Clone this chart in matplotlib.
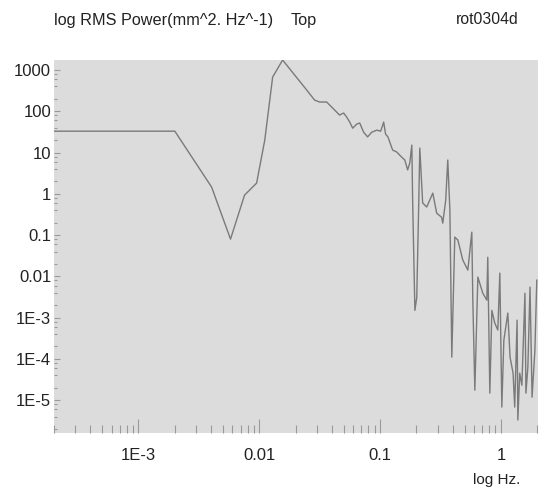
import numpy as np
import matplotlib.pyplot as plt
from matplotlib.ticker import LogLocator, FixedLocator, FixedFormatter, NullFormatter

# spectrum (frequency in Hz, power in mm^2/Hz)
freq = [0.0002, 0.002, 0.00403, 0.00578, 0.00755, 0.0095, 0.0111, 0.0129, 0.0156, 0.0247,
        0.0287, 0.0316, 0.0361, 0.0405, 0.0462, 0.0499, 0.0528, 0.0560, 0.0593, 0.0640,
        0.0678, 0.0731, 0.0788, 0.0851, 0.0938, 0.101, 0.105, 0.107, 0.111, 0.116,
        0.127, 0.1375, 0.145, 0.160, 0.169, 0.176, 0.183, 0.186, 0.194, 0.201,
        0.209, 0.213, 0.225, 0.243, 0.273, 0.294, 0.323, 0.330, 0.349, 0.363,
        0.378, 0.392, 0.415, 0.440, 0.483, 0.532, 0.574, 0.585, 0.608, 0.644,
        0.708, 0.764, 0.778, 0.809, 0.841, 0.889, 0.942, 0.979, 1.017, 1.057,
        1.14, 1.19, 1.26, 1.30, 1.36, 1.38, 1.43, 1.49, 1.58, 1.61,
        1.67, 1.74, 1.81, 1.91, 1.98]
power = [33, 33, 1.46, 0.080, 0.93, 1.82, 20, 676, 1750, 327,
         187, 168, 168, 120, 81, 91, 73, 55, 39, 49,
         52, 31, 24, 31, 35, 33, 46, 55, 28, 24,
         11.5, 10.3, 8.7, 6.6, 3.8, 5.6, 15.2, 0.60, 1.5e-3, 3.1e-3,
         0.70, 12.9, 0.60, 0.48, 1.04, 0.34, 0.27, 0.195, 0.70, 6.6,
         0.40, 1.1e-4, 0.0895, 0.076, 0.025, 0.0142, 0.118, 2.65e-3, 1.75e-5, 9.6e-3,
         3.9e-3, 2.65e-3, 0.029, 1.48e-5, 1.5e-3, 7.4e-4, 5.0e-4, 0.012, 6.8e-6, 2.85e-4,
         1.29e-3, 1.1e-4, 4.5e-5, 6.8e-6, 8.7e-4, 3.3e-6, 4.5e-5, 2.3e-5, 3.9e-3, 1.48e-5,
         6.3e-5, 5.5e-3, 1.18e-5, 1.63e-4, 8.1e-3]

xticks = [1e-3, 0.01, 0.1, 1]
xlabels = ['1E-3', '0.01', '0.1', '1']
yticks = [1000, 100, 10, 1, 0.1, 0.01, 1e-3, 1e-4, 1e-5]
ylabels = ['1000', '100', '10', '1', '0.1', '0.01', '1E-3', '1E-4', '1E-5']

plt.rcParams['font.family'] = ['Liberation Sans', 'DejaVu Sans']

fig = plt.figure(figsize=(5.4, 4.88), dpi=100)
ax = fig.add_axes([0.1, 0.1127, 0.896, 0.7643])
ax.set_facecolor('#dcdcdc')

ax.plot(freq, power, color='#7a7a7a', lw=1.0)

ax.set_xscale('log')
ax.set_yscale('log')
ax.set_xlim(2e-4, 2.02)
ax.set_ylim(1.6e-6, 1750)

for s in ax.spines.values():
    s.set_visible(False)

ax.xaxis.set_major_locator(FixedLocator(xticks))
ax.xaxis.set_major_formatter(FixedFormatter(xlabels))
ax.xaxis.set_minor_locator(LogLocator(base=10, subs=np.arange(2, 10), numticks=20))
ax.xaxis.set_minor_formatter(NullFormatter())
ax.yaxis.set_major_locator(FixedLocator(yticks))
ax.yaxis.set_major_formatter(FixedFormatter(ylabels))
ax.yaxis.set_minor_locator(LogLocator(base=10, subs=[2, 4, 6, 8], numticks=20))
ax.yaxis.set_minor_formatter(NullFormatter())

ax.tick_params(axis='x', which='major', direction='in', length=10, width=0.8,
               color='#9a9a9a', labelsize=12, labelcolor='#222222', pad=11)
ax.tick_params(axis='x', which='minor', direction='in', length=6, width=0.8, color='#9a9a9a')
ax.tick_params(axis='y', which='major', direction='in', length=4, width=0.8,
               color='#9a9a9a', labelsize=12, labelcolor='#222222', pad=2)
ax.tick_params(axis='y', which='minor', direction='in', length=2.5, width=0.8, color='#9a9a9a')

fig.text(54 / 540, 1 - 20 / 488, 'log RMS Power(mm^2. Hz^-1)', fontsize=11.7,
         ha='left', va='center', color='#222222')
fig.text(291 / 540, 1 - 20 / 488, 'Top', fontsize=11.7, ha='left', va='center', color='#222222')
fig.text(519 / 540, 1 - 20 / 488, 'rot0304d', fontsize=11.3, ha='right', va='center', color='#222222')
fig.text(520 / 540, 1 - 480 / 488, 'log Hz.', fontsize=11, ha='right', va='center', color='#222222')

fig.savefig('out.png', dpi=100)
